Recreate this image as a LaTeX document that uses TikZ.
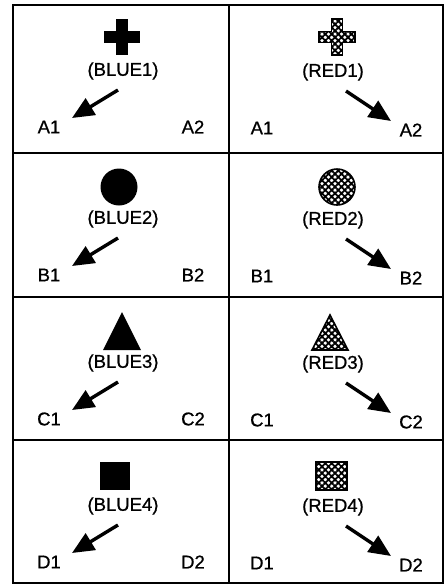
\documentclass[tikz,border=0pt]{standalone}
\usepackage{fontspec}
\setmainfont{Liberation Sans}[FakeBold=0.8]
\usetikzlibrary{arrows.meta}
\usetikzlibrary{patterns.meta}

\tikzset{
  tag/.style={font=\fontsize{18.5}{20}\selectfont, inner sep=0pt},
  pointer/.style={line width=3.4pt, -{Triangle[length=22pt,width=19pt]}},
  solidmark/.style={fill=black},
  hatchmark/.style={draw=black, line width=1.6pt,
    pattern={Hatch[angle=45,distance=4.6pt,line width=1.8pt]}},
  gridline/.style={line width=2pt}
}

\begin{document}
\begin{tikzpicture}[x=1pt,y=-1pt]
        \useasboundingbox (0,0) rectangle (446,587);
        \newcommand{\boardleft}{13}
        \newcommand{\boardright}{443}
        \newcommand{\boardtop}{5}
        \newcommand{\boardbottom}{583}
        \newcommand{\boardmid}{229}
        \newcommand{\armlen}{18}
        \newcommand{\armhalf}{6}
        \newcommand{\redarmhalf}{5.5}
        % frame and cells
        \draw[gridline] (\boardleft,\boardtop) rectangle (\boardright,\boardbottom);
        \draw[gridline] (\boardmid,\boardtop) -- (\boardmid,\boardbottom);
        \foreach \y in {153,297,440}
          \draw[gridline] (\boardleft,\y) -- (\boardright,\y);
        % tags, corner letters and pointers, one row at a time
        \foreach \top/\ltr/\n in {5/A/1, 153/B/2, 297/C/3, 440/D/4} {
          \node[tag] (blue\n) at (123,\top+66) {(BLUE\n)};
          \node[tag] (red\n) at (333,\top+67) {(RED\n)};
          \node[tag] (bl\n) at (49,\top+122) {\ltr1};
          \node[tag] (br\n) at (193,\top+122) {\ltr2};
          \node[tag] (rl\n) at (262,\top+123) {\ltr1};
          \node[tag] (rr\n) at (411,\top+125) {\ltr2};
          \coordinate (btail\n) at (118,\top+85);
          \coordinate (bhead\n) at (72,\top+113);
          \coordinate (rtail\n) at (346,\top+86);
          \coordinate (rhead\n) at (391,\top+116);
          \draw[pointer] (btail\n) -- (bhead\n);
          \draw[pointer] (rtail\n) -- (rhead\n);
        }
        % row A: crosses
        \fill[solidmark] (122,37) ++(-\armhalf,-\armlen) rectangle ++(2*\armhalf,2*\armlen);
        \fill[solidmark] (122,37) ++(-\armlen,-\armhalf) rectangle ++(2*\armlen,2*\armhalf);
        \path[hatchmark] (337,37) ++(-\redarmhalf,-\armlen) -- ++(2*\redarmhalf,0) -- ++(0,\armlen-\redarmhalf)
          -- ++(\armlen-\redarmhalf,0) -- ++(0,2*\redarmhalf) -- ++(\redarmhalf-\armlen,0)
          -- ++(0,\armlen-\redarmhalf) -- ++(-2*\redarmhalf,0) -- ++(0,\redarmhalf-\armlen)
          -- ++(\redarmhalf-\armlen,0) -- ++(0,-2*\redarmhalf) -- ++(\armlen-\redarmhalf,0) -- cycle;
        % row B: discs
        \fill[solidmark] (119,187) circle (18.5);
        \path[hatchmark] (337,187) circle (18);
        % row C: triangles
        \fill[solidmark] (122,312) -- (141,350) -- (103,350) -- cycle;
        \path[hatchmark] (330,315) -- (348,350) -- (312,350) -- cycle;
        % row D: squares
        \fill[solidmark] (100,462) rectangle (130,490);
        \path[hatchmark] (316,462) rectangle (347,490);
\end{tikzpicture}
\end{document}
